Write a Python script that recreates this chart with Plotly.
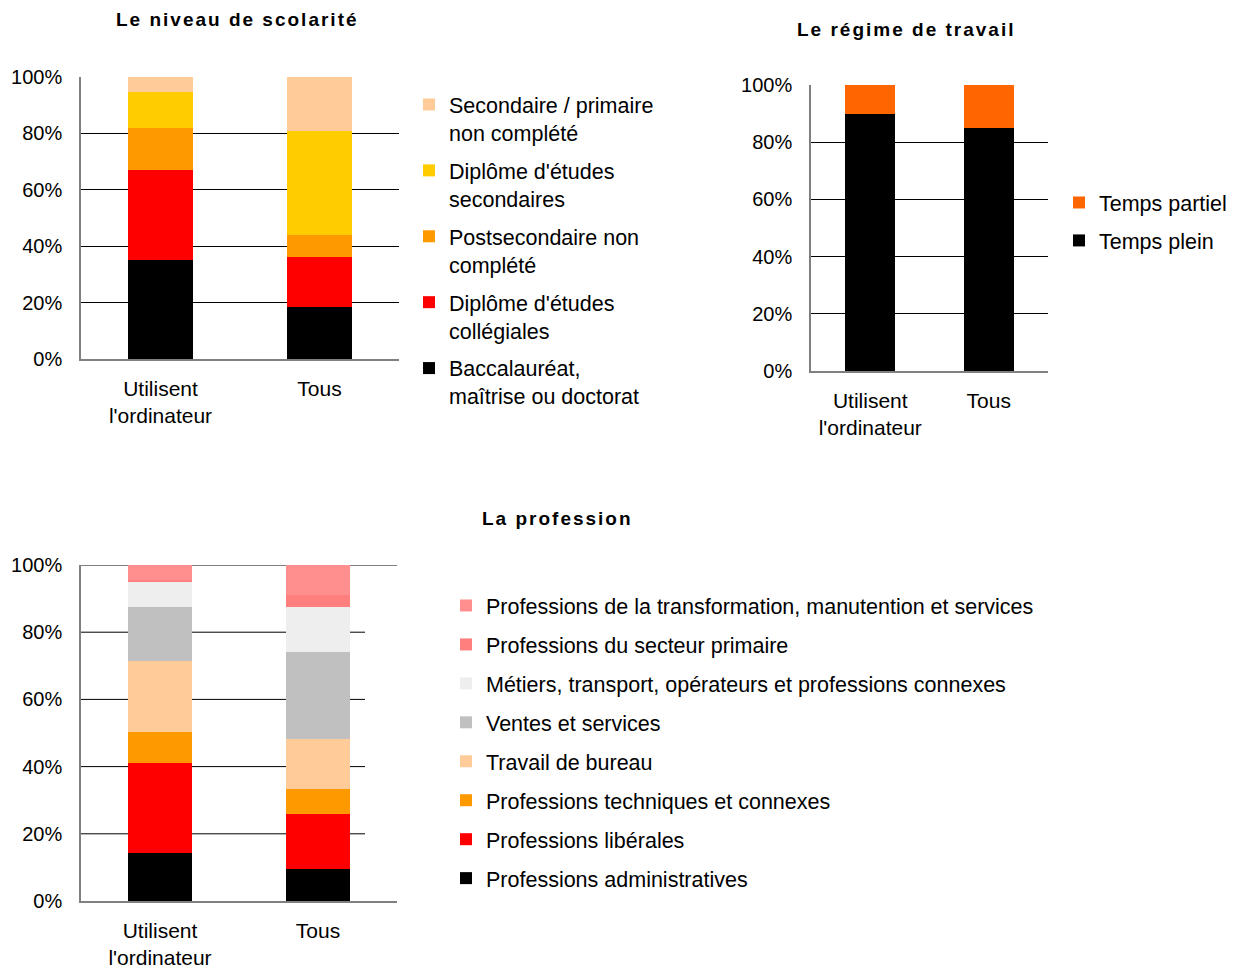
import plotly.graph_objects as go

W, H = 1241, 972
OX, OY = 8, 8          # page body margin offset compensation
FW, FH = W - OX, H - OY

categories = ["Utilisent<br>l'ordinateur", "Tous"]

# Chart 1: education (bottom -> top)
edu_names = ["Baccalauréat,<br>maîtrise ou doctorat", "Diplôme d'études<br>collégiales",
             "Postsecondaire non<br>complété", "Diplôme d'études<br>secondaires",
             "Secondaire / primaire<br>non complété"]
edu_colors = ["#000000", "#FF0000", "#FF9900", "#FFCC00", "#FFCC99"]
edu_utilisent = [0.352, 0.318, 0.149, 0.127, 0.054]
edu_tous = [0.183, 0.177, 0.078, 0.371, 0.191]

# Chart 2: work regime
reg_names = ["Temps plein", "Temps partiel"]
reg_colors = ["#000000", "#FF6600"]
reg_utilisent = [0.90, 0.10]
reg_tous = [0.851, 0.149]

# Chart 3: profession (bottom -> top)
prof_names = ["Professions administratives", "Professions libérales",
              "Professions techniques et connexes", "Travail de bureau",
              "Ventes et services", "Métiers, transport, opérateurs et professions connexes",
              "Professions du secteur primaire",
              "Professions de la transformation, manutention et services"]
prof_colors = ["#000000", "#FF0000", "#FF9900", "#FFCC99", "#C0C0C0", "#EEEEEE",
               "#FF7F7F", "#FF8F8F"]
prof_utilisent = [0.142, 0.268, 0.092, 0.211, 0.163, 0.075, 0.004, 0.046]
prof_tous = [0.094, 0.164, 0.074, 0.149, 0.259, 0.136, 0.034, 0.091]

ytickvals = [0, 0.2, 0.4, 0.6, 0.8, 1.0]

FONT = "Liberation Sans, Arial, sans-serif"

fig = go.Figure()

def add_group(names, colors, v1, v2, xa, ya, leg, prefix, width):
    n = len(names)
    for i, nm in enumerate(names):
        fig.add_trace(go.Bar(x=categories, y=[v1[i], v2[i]], name=nm,
                             marker=dict(color=colors[i], line=dict(width=0)),
                             width=width, xaxis=xa, yaxis=ya, legend=leg,
                             legendgroup="%s%d" % (prefix, i), legendrank=n - i))

add_group(edu_names, edu_colors, edu_utilisent, edu_tous, "x", "y", "legend", "e", 0.41)
add_group(reg_names, reg_colors, reg_utilisent, reg_tous, "x2", "y2", "legend2", "r", 0.42)
add_group(prof_names, prof_colors, prof_utilisent, prof_tous, "x3", "y3", "legend3", "p", 0.40)

def fx(p):
    return (p - OX) / FW

def fy(p):
    return 1 - (p - OY) / FH

def px_x(a, b):
    return [fx(a), fx(b)]

def px_y(top, bottom):
    return [fy(bottom), fy(top)]

xaxis_common = dict(showgrid=False, showline=True, linecolor="#808080", linewidth=1.5,
                    ticks="", tickfont=dict(size=21, color="#000000", family=FONT),
                    ticklabelstandoff=10, fixedrange=True, automargin=False)
yaxis_common = dict(range=[0, 1], tickvals=ytickvals, tickformat=".0%",
                    showline=True, linecolor="#808080", linewidth=1.5,
                    gridcolor="#000000", gridwidth=1, zeroline=False,
                    ticks="", tickfont=dict(size=20, color="#000000", family=FONT),
                    ticklabelstandoff=13, fixedrange=True, automargin=False)

legend_font = dict(size=21.5, family=FONT, color="#000000")

fig.update_layout(
    width=FW, height=FH,
    margin=dict(l=0, r=0, t=0, b=0, autoexpand=False),
    paper_bgcolor="white", plot_bgcolor="white",
    barmode="stack", bargap=0,
    font=dict(family=FONT, size=20, color="#000000"),
    xaxis=dict(domain=px_x(81, 399), anchor="y", **xaxis_common),
    yaxis=dict(domain=px_y(77, 359), anchor="x", showgrid=True, **yaxis_common),
    xaxis2=dict(domain=px_x(811, 1048), anchor="y2", **xaxis_common),
    yaxis2=dict(domain=px_y(85, 371), anchor="x2", showgrid=True, **yaxis_common),
    xaxis3=dict(domain=px_x(81, 397), anchor="y3", **xaxis_common),
    yaxis3=dict(domain=px_y(565, 901), anchor="x3", showgrid=False, **yaxis_common),
    legend=dict(x=fx(409), y=fy(84), xanchor="left", yanchor="top",
                traceorder="grouped", tracegroupgap=7, valign="top",
                font=legend_font, bgcolor="rgba(0,0,0,0)"),
    legend2=dict(x=fx(1059), y=fy(182), xanchor="left", yanchor="top",
                 traceorder="grouped", tracegroupgap=7,
                 font=legend_font, bgcolor="rgba(0,0,0,0)"),
    legend3=dict(x=fx(446), y=fy(585), xanchor="left", yanchor="top",
                 traceorder="grouped", tracegroupgap=8,
                 font=legend_font, bgcolor="rgba(0,0,0,0)"),
)

# gridlines for chart 3 (shorter inner lines, as in the reference)
for v in [0.2, 0.4, 0.6, 0.8]:
    fig.add_shape(type="line", xref="paper", yref="y3", x0=fx(81), x1=fx(365), y0=v, y1=v,
                  line=dict(color="#000000", width=1), layer="below")
fig.add_shape(type="line", xref="paper", yref="y3", x0=fx(81), x1=fx(397), y0=1, y1=1,
              line=dict(color="#000000", width=1), layer="below")

titles = [("Le niveau de scolarité", 237, 20), ("Le régime de travail", 906, 29),
          ("La profession", 557, 518)]
for t, cx, cy in titles:
    fig.add_annotation(text='<span style="letter-spacing:2px"><b>%s</b></span>' % t,
                       x=fx(cx), y=fy(cy), xref="paper", yref="paper",
                       xanchor="center", yanchor="middle", showarrow=False,
                       font=dict(size=19, family=FONT, color="#000000"))

fig.write_html("out.html")
